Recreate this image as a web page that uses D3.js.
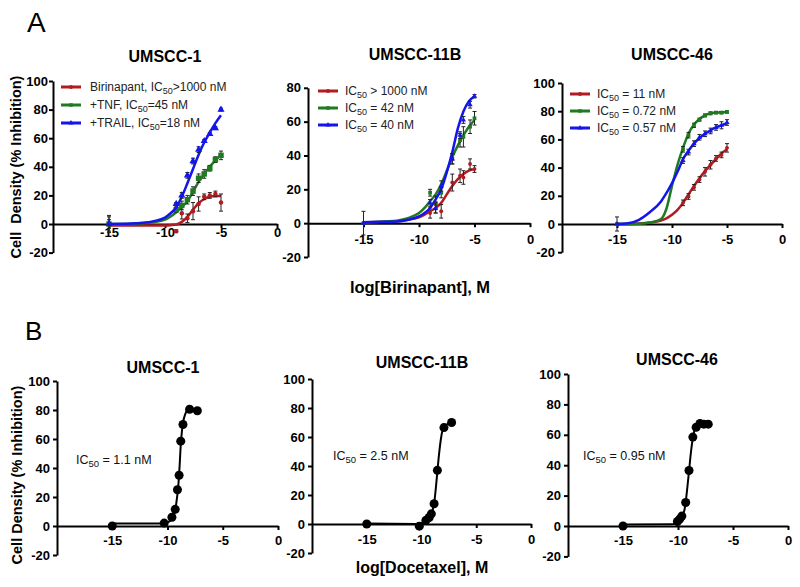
<!DOCTYPE html>
<html><head><meta charset="utf-8">
<script src="https://cdn.jsdelivr.net/npm/d3@7"></script>
<style>
body{margin:0;background:#fff;}
svg{font-family:"Liberation Sans",Arial,sans-serif;display:block;}
</style></head><body>
<svg id="chart" width="800" height="587"></svg>
<script>
// ---------- data ----------
const xTickValues = [-15, -10, -5, 0];
const xTickLabels = ["-15", "-10", "-5", "0"];
const yTicks100 = [-20, 0, 20, 40, 60, 80, 100];
const yTicks80 = [-20, 0, 20, 40, 60, 80];

const panelTitlesA = ["UMSCC-1", "UMSCC-11B", "UMSCC-46"];
const panelTitlesB = ["UMSCC-1", "UMSCC-11B", "UMSCC-46"];
const legendA1 = [["Birinapant, IC", "50", ">1000 nM"], ["+TNF, IC", "50", "=45 nM"], ["+TRAIL, IC", "50", "=18 nM"]];
const legendA2 = [["IC", "50", " > 1000 nM"], ["IC", "50", " = 42 nM"], ["IC", "50", " = 40 nM"]];
const legendA3 = [["IC", "50", " = 11 nM"], ["IC", "50", " = 0.72 nM"], ["IC", "50", " = 0.57 nM"]];
const annotB = [["IC", "50", " = 1.1 nM"], ["IC", "50", " = 2.5 nM"], ["IC", "50", " = 0.95 nM"]];

// Panel A1 (UMSCC-1)
const doseA1 = [-15, -9, -8.5, -8, -7.5, -7, -6.5, -6, -5.5, -5];
const a1BirinapantMean = [0, -5, 7.5, 4, 9, 14, 19, 20, 21, 15];
const a1BirinapantErr  = [5, 1, 4, 3, 6, 5, 2, 2, 2, 6];
const a1TnfMean = [0, 10, 13, 17, 23, 32, 35, 39, 45, 48];
const a1TnfErr  = [6, 2, 3, 3, 3, 3, 3, 2, 2, 3];
const a1TrailMean = [0, 14, 20, 34, 44, 52, 58, 63, 67, 80];
const a1TrailErr  = [3, 1, 2, 2, 2, 2, 1, 1, 1, 1];
const fitGridA = [-15, -13, -12, -11, -10, -9.5, -9, -8.5, -8, -7.5, -7, -6.5, -6, -5.5, -5];
const a1BirinapantFit = [-1, -1, -1, -1, -1, -0.8, -0.3, 1.5, 5, 10, 14.5, 17.5, 19, 19.5, 19.6];
const a1TnfFit = [0, 0.2, 0.5, 1.3, 3, 5.2, 8.2, 11.8, 16, 22.5, 29.5, 35, 40, 44.5, 48.3];
const a1TrailFit = [0, 0.3, 0.8, 2, 4.5, 7.5, 11.5, 19, 28.5, 38.5, 48.5, 57, 64, 70.5, 76];

// Panel A2 (UMSCC-11B)
const doseA2 = [-15, -9, -8.5, -8, -7, -6.3, -6, -5.4, -5];
const a2BirinapantMean = [0, 6, 11, 7, 24, 28, 27, 35, 32];
const a2BirinapantErr  = [7, 3, 5, 4, 5, 4, 4, 3, 2];
const a2TnfMean = [0, 18, 12, 18, 38, 49, 51, 57, 62];
const a2TnfErr  = [0, 2, 4, 3, 3, 4, 6, 4, 4];
const a2TrailMean = [0, 12, 9, 22, 38, 52, 61, 70, 75];
const a2TrailErr  = [0, 2, 3, 3, 3, 2, 2, 2, 1];
const a2BirinapantFit = [0.5, 0.8, 1, 2, 3.5, 5, 7, 9, 12, 17, 22, 26, 29, 31, 32];
const a2TnfFit = [0.5, 1, 1.5, 3, 6, 9, 13, 17, 23, 31, 39, 46, 52, 57, 61];
const a2TrailFit = [0.5, 0.8, 1, 2, 4, 6, 9, 14, 20, 30, 42, 56, 66, 72, 75];

// Panel A3 (UMSCC-46)
const doseA3 = [-15, -9, -8.5, -8, -7.5, -7, -6.5, -6, -5.5, -5];
const a3BirinapantMean = [0, 15, 19.5, 26, 31.5, 37, 42, 46.5, 49, 54];
const a3BirinapantErr  = [5, 2, 2, 2, 2, 3, 3, 2, 2, 3];
const a3TnfMean = [0, 53, 63, 70, 74, 77, 78.5, 79, 79, 79.5];
const a3TnfErr  = [0, 2, 2, 1.5, 1, 1, 1, 0.8, 0.8, 0.8];
const a3TrailMean = [0, 45, 51, 57, 61.5, 64, 66, 68.5, 70, 72];
const a3TrailErr  = [0, 2, 2, 2, 2, 2, 2, 2, 2.5, 2];
const fitGridA3 = [-15, -14, -13, -12, -11, -10.5, -10, -9.5, -9, -8.5, -8, -7.5, -7, -6.5, -6, -5.5, -5];
const a3BirinapantFit = [0, 0, 0.3, 1, 2.5, 4, 6.5, 10, 15, 21, 27, 32.5, 37.5, 42, 46, 50, 53];
const a3TnfFit = [0, 0, 0.2, 1, 3.5, 11, 27, 42, 54, 64, 70.5, 74.5, 77, 78.5, 79, 79.3, 79.5];
const a3TrailFit = [0, 0.5, 3, 8.5, 16, 22, 29, 37, 46, 52, 57, 61, 64, 66.5, 68.5, 70, 71.5];

// Panel B (Docetaxel)
const doseB1 = [-15, -10.3, -9.6, -9.3, -9.1, -8.95, -8.8, -8.6, -8.0, -7.3];
const b1Mean = [0, 2, 6, 11.5, 25, 35, 58.5, 70, 80.5, 79.5];
const fitB1X = [-15, -10.5, -10, -9.7, -9.4, -9.3, -9.2, -9.1, -9.0, -8.9, -8.8, -8.7, -8.6, -8.4, -8.2, -8.0];
const fitB1Y = [1.8, 1.8, 2.5, 4, 8, 11, 16, 22, 30, 42, 56, 65, 71, 77, 80, 80.5];

const doseB2 = [-15, -10.2, -9.6, -9.3, -9.1, -8.85, -8.55, -7.95, -7.25];
const b2Mean = [0, -1.5, 2.5, 4.5, 7, 14, 37, 66.5, 70];
const fitB2X = [-15, -10.5, -10, -9.5, -9.2, -9.0, -8.8, -8.6, -8.4, -8.2, -8.0, -7.6, -7.25];
const fitB2Y = [0.3, 0, 0.5, 2.5, 5.5, 9, 17, 32, 48, 60, 66.5, 69, 70];

const doseB3 = [-15, -10.05, -9.85, -9.65, -9.3, -9.0, -8.65, -8.35, -8.0, -7.65, -7.25];
const b3Mean = [0, 3, 4.5, 6.5, 15.5, 36.5, 58.5, 65, 67.5, 67, 67];
const fitB3X = [-15, -10.5, -10, -9.7, -9.4, -9.2, -9.0, -8.8, -8.6, -8.4, -8.2, -8.0, -7.6, -7.25];
const fitB3Y = [1, 1.2, 2.5, 5, 11, 22, 36, 50, 60, 65, 67, 67.5, 67.5, 67.5];

// ---------- styling ----------
const RED = "#b01c22", GREEN = "#1f7a21", BLUE = "#1414ee";
const svg = d3.select("#chart");

function zip(a, b, e) { return a.map((v, i) => ({x: v, y: b[i], e: e ? e[i] : 0})); }

function drawPanel(cfg) {
  const x = d3.scaleLinear().domain([-20, 0]).range(cfg.xr);
  const y = d3.scaleLinear().domain(cfg.yd).range(cfg.yr);
  const g = svg.append("g");

  // y axis
  const ya = g.append("g").attr("transform", `translate(${cfg.xr[0]},0)`)
    .call(d3.axisLeft(y).tickValues(cfg.yTicks).tickSize(4).tickSizeOuter(0).tickPadding(cfg.yPad).tickFormat(d => String(d)));
  // x axis
  const xa = g.append("g").attr("transform", `translate(0,${y(0)})`)
    .call(d3.axisBottom(x).tickValues(xTickValues).tickSize(4).tickSizeOuter(0).tickFormat((d, i) => xTickLabels[i]));
  [xa, ya].forEach(a => {
    a.select(".domain").attr("stroke", "#000").attr("stroke-width", 2);
    a.selectAll(".tick line").attr("stroke", "#000").attr("stroke-width", 2);
    a.selectAll("text").attr("fill", "#000").attr("font-weight", "bold").attr("font-size", cfg.tickFont)
      .attr("font-family", "Liberation Sans, Arial, sans-serif");
  });
  xa.selectAll("text").attr("y", cfg.xGap).attr("dy", "0.35em");

  // title
  g.append("text").attr("x", cfg.titlePos[0]).attr("y", cfg.titlePos[1]).attr("text-anchor", "middle")
    .attr("font-weight", "bold").attr("font-size", 16).text(cfg.title);

  const line = d3.line().x(d => x(d.x)).y(d => y(d.y)).curve(d3.curveMonotoneX);
  cfg.series.forEach(s => {
    g.append("path").datum(zip(s.fitX, s.fitY)).attr("d", line).attr("fill", "none")
      .attr("stroke", s.color).attr("stroke-width", s.lw);
    const pts = zip(s.dose, s.mean, s.err);
    // error bars
    pts.filter(p => p.e > 0).forEach(p => {
      const eg = g.append("g").attr("stroke", "#222").attr("stroke-width", 1);
      eg.append("line").attr("x1", x(p.x)).attr("x2", x(p.x)).attr("y1", y(p.y - p.e)).attr("y2", y(p.y + p.e));
      [p.y - p.e, p.y + p.e].forEach(v => eg.append("line").attr("x1", x(p.x) - 2).attr("x2", x(p.x) + 2).attr("y1", y(v)).attr("y2", y(v)));
    });
    g.selectAll(null).data(pts).enter().append("path")
      .attr("d", d3.symbol().type(s.symbol).size(s.size))
      .attr("transform", d => `translate(${x(d.x)},${y(d.y)})`)
      .attr("fill", s.color);
  });

  // legend
  if (cfg.legend) {
    cfg.legend.items.forEach((it, i) => {
      const s = cfg.series[i];
      const ly = cfg.legend.y0 + i * cfg.legend.dy;
      g.append("line").attr("x1", cfg.legend.x0).attr("x2", cfg.legend.x0 + 20).attr("y1", ly).attr("y2", ly)
        .attr("stroke", s.color).attr("stroke-width", 3);
      g.append("path").attr("d", d3.symbol().type(s.symbol).size(12)).attr("transform", `translate(${cfg.legend.x0 + 10},${ly})`).attr("fill", s.color);
      const t = g.append("text").attr("x", cfg.legend.x0 + cfg.legend.tx).attr("y", ly + 4).attr("font-size", 12).attr("fill", "#222");
      t.append("tspan").text(it[0]);
      t.append("tspan").attr("font-size", 9).attr("dy", 3).text(it[1]);
      t.append("tspan").attr("dy", -3).style("white-space", "pre").text(it[2]);
    });
  }
  if (cfg.annot) {
    const t = g.append("text").attr("x", cfg.annot.x).attr("y", cfg.annot.y).attr("font-size", 12.5).attr("fill", "#111");
    t.append("tspan").text(cfg.annot.text[0]);
    t.append("tspan").attr("font-size", 9.5).attr("dy", 3).text(cfg.annot.text[1]);
    t.append("tspan").attr("dy", -3).style("white-space", "pre").text(cfg.annot.text[2]);
  }
}

const circ = d3.symbolCircle, sq = d3.symbolSquare, tri = d3.symbolTriangle;

drawPanel({
  xr: [53, 277], yd: [-20, 100], yr: [252.6, 81], yTicks: yTicks100, yPad: 1, tickFont: 13, xGap: 8,
  title: panelTitlesA[0], titlePos: [165, 62],
  series: [
    {dose: doseA1, mean: a1BirinapantMean, err: a1BirinapantErr, fitX: fitGridA, fitY: a1BirinapantFit, color: RED, symbol: circ, size: 16, lw: 2.5},
    {dose: doseA1, mean: a1TnfMean, err: a1TnfErr, fitX: fitGridA, fitY: a1TnfFit, color: GREEN, symbol: sq, size: 30, lw: 2.5},
    {dose: doseA1, mean: a1TrailMean, err: a1TrailErr, fitX: fitGridA, fitY: a1TrailFit, color: BLUE, symbol: tri, size: 22, lw: 2.5}
  ],
  legend: {items: legendA1, x0: 61, y0: 87, dy: 18, tx: 29}
});
drawPanel({
  xr: [308, 530], yd: [-20, 80], yr: [257, 87.8], yTicks: yTicks80, yPad: 3, tickFont: 13, xGap: 16,
  title: panelTitlesA[1], titlePos: [415, 60],
  series: [
    {dose: doseA2, mean: a2BirinapantMean, err: a2BirinapantErr, fitX: fitGridA, fitY: a2BirinapantFit, color: RED, symbol: circ, size: 12, lw: 2.5},
    {dose: doseA2, mean: a2TnfMean, err: a2TnfErr, fitX: fitGridA, fitY: a2TnfFit, color: GREEN, symbol: sq, size: 14, lw: 2.5},
    {dose: doseA2, mean: a2TrailMean, err: a2TrailErr, fitX: fitGridA, fitY: a2TrailFit, color: BLUE, symbol: tri, size: 12, lw: 2.5}
  ],
  legend: {items: legendA2, x0: 318, y0: 91, dy: 17, tx: 27}
});
drawPanel({
  xr: [562, 782], yd: [-20, 100], yr: [252.2, 83], yTicks: yTicks100, yPad: 3, tickFont: 13, xGap: 15,
  title: panelTitlesA[2], titlePos: [672, 60],
  series: [
    {dose: doseA3, mean: a3BirinapantMean, err: a3BirinapantErr, fitX: fitGridA3, fitY: a3BirinapantFit, color: RED, symbol: circ, size: 12, lw: 2.5},
    {dose: doseA3, mean: a3TnfMean, err: a3TnfErr, fitX: fitGridA3, fitY: a3TnfFit, color: GREEN, symbol: sq, size: 14, lw: 2.5},
    {dose: doseA3, mean: a3TrailMean, err: a3TrailErr, fitX: fitGridA3, fitY: a3TrailFit, color: BLUE, symbol: tri, size: 12, lw: 2.5}
  ],
  legend: {items: legendA3, x0: 570, y0: 94, dy: 17, tx: 27}
});
drawPanel({
  xr: [57, 278], yd: [-20, 100], yr: [555, 381], yTicks: yTicks100, yPad: 3, tickFont: 13, xGap: 14,
  title: panelTitlesB[0], titlePos: [163, 373],
  series: [{dose: doseB1, mean: b1Mean, err: null, fitX: fitB1X, fitY: fitB1Y, color: "#000", symbol: circ, size: 64, lw: 2}],
  annot: {x: 76, y: 464, text: annotB[0]}
});
drawPanel({
  xr: [312, 531], yd: [-20, 100], yr: [553, 379], yTicks: yTicks100, yPad: 3, tickFont: 13, xGap: 15,
  title: panelTitlesB[1], titlePos: [422, 368],
  series: [{dose: doseB2, mean: b2Mean, err: null, fitX: fitB2X, fitY: fitB2Y, color: "#000", symbol: circ, size: 64, lw: 2}],
  annot: {x: 333, y: 460, text: annotB[1]}
});
drawPanel({
  xr: [568, 788], yd: [-20, 100], yr: [556.4, 374], yTicks: yTicks100, yPad: 3, tickFont: 13, xGap: 14.5,
  title: panelTitlesB[2], titlePos: [677, 365],
  series: [{dose: doseB3, mean: b3Mean, err: null, fitX: fitB3X, fitY: fitB3Y, color: "#000", symbol: circ, size: 64, lw: 2}],
  annot: {x: 583, y: 460, text: annotB[2]}
});

// panel letters and shared axis labels
svg.append("text").attr("x", 27).attr("y", 32).attr("font-size", 28).text("A");
svg.append("text").attr("x", 25).attr("y", 340).attr("font-size", 26).text("B");
svg.append("text").attr("transform", "translate(21,167) rotate(-90)").attr("text-anchor", "middle")
  .attr("font-weight", "bold").attr("font-size", 14.5).style("white-space", "pre").text("Cell  Density (% Inhibition)");
svg.append("text").attr("transform", "translate(22,475) rotate(-90)").attr("text-anchor", "middle")
  .attr("font-weight", "bold").attr("font-size", 14.5).text("Cell Density (% Inhibition)");
svg.append("text").attr("x", 420).attr("y", 293).attr("text-anchor", "middle")
  .attr("font-weight", "bold").attr("font-size", 16.5).text("log[Birinapant], M");
svg.append("text").attr("x", 422).attr("y", 573).attr("text-anchor", "middle")
  .attr("font-weight", "bold").attr("font-size", 16).text("log[Docetaxel], M");
</script>
</body></html>
